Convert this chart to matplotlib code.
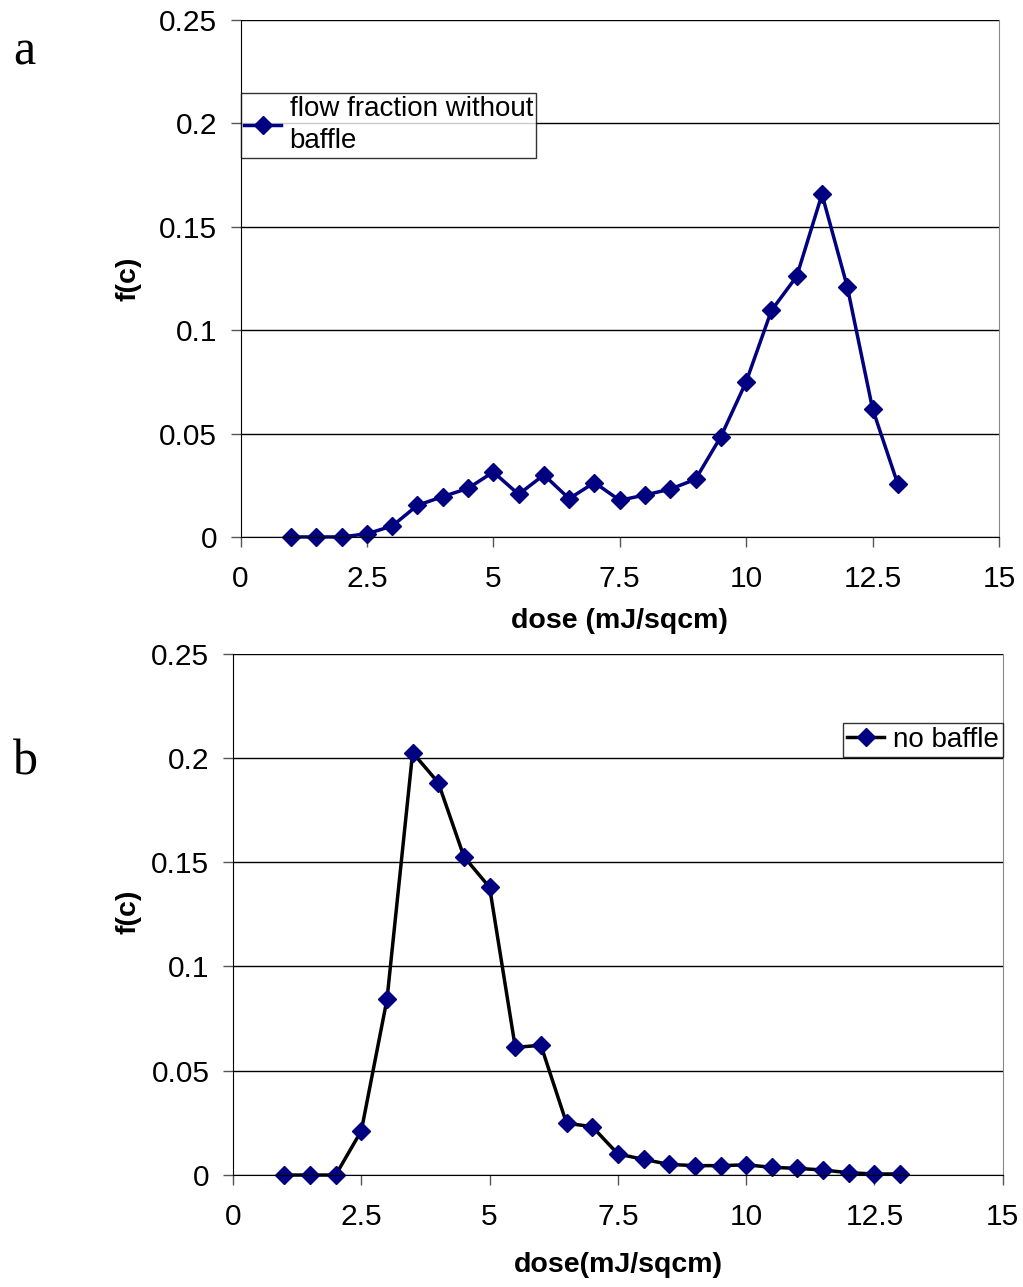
import matplotlib
matplotlib.use("agg")
import matplotlib.pyplot as plt

# dose values (mJ/sqcm)
dose = [1, 1.5, 2, 2.5, 3, 3.5, 4, 4.5, 5, 5.5, 6, 6.5, 7, 7.5, 8, 8.5, 9,
        9.5, 10, 10.5, 11, 11.5, 12, 12.5, 13]

# panel a: flow fraction without baffle
fc_a = [0.0, 0.0, 0.0, 0.0015, 0.0053, 0.0153, 0.0195, 0.0235, 0.0314,
        0.0206, 0.0300, 0.0185, 0.0263, 0.0177, 0.0203, 0.0231, 0.0279,
        0.0485, 0.0750, 0.1095, 0.1260, 0.1657, 0.1210, 0.0620, 0.0255]

# panel b: no baffle
fc_b = [0.0, 0.0, 0.0, 0.0212, 0.0842, 0.2025, 0.1881, 0.1526, 0.1379,
        0.0612, 0.0622, 0.0248, 0.0232, 0.0101, 0.0075, 0.0051, 0.0045,
        0.0045, 0.0049, 0.0037, 0.0032, 0.0024, 0.0011, 0.0005, 0.0005]

xticks = [0, 2.5, 5, 7.5, 10, 12.5, 15]
xtick_labels = ["0", "2.5", "5", "7.5", "10", "12.5", "15"]
yticks = [0, 0.05, 0.1, 0.15, 0.2, 0.25]
ytick_labels = ["0", "0.05", "0.1", "0.15", "0.2", "0.25"]

plt.rcParams['font.family'] = ['Liberation Sans', 'DejaVu Sans']
NAVY = '#000080'


def style_axes(ax, xlabel, ylab_pos, xlab_pos):
    ax.set_xlim(0, 15)
    ax.set_ylim(0, 0.25)
    ax.set_xticks(xticks)
    ax.set_xticklabels(xtick_labels)
    ax.set_yticks(yticks)
    ax.set_yticklabels(ytick_labels)
    ax.tick_params(direction='out', length=7, width=1, labelsize=21.5,
                   color='#555555')
    ax.tick_params(axis='y', pad=10)
    ax.tick_params(axis='x', pad=13)
    ax.yaxis.grid(True, color='black', lw=1)
    ax.set_axisbelow(True)
    ax.spines['top'].set_visible(False)
    ax.spines['right'].set_color('#888888')
    ax.spines['bottom'].set_color('black')
    ax.spines['left'].set_color('black')
    ax.set_ylabel("f(c)", fontsize=20.5, fontweight='bold')
    ax.set_xlabel(xlabel, fontsize=20.5, fontweight='bold')
    ax.yaxis.set_label_coords(*ylab_pos)
    ax.xaxis.set_label_coords(*xlab_pos)


fig = plt.figure(figsize=(10.23, 12.87), dpi=100)
ax1 = fig.add_axes([0.2351, 0.5828, 0.7414, 0.4017])
ax2 = fig.add_axes([0.2278, 0.0870, 0.7524, 0.4052])

ax1.plot(dose, fc_a, color=NAVY, lw=2.5, marker='D', ms=9, mfc=NAVY,
         mec=NAVY, label='flow fraction without\nbaffle', clip_on=False)
style_axes(ax1, "dose (mJ/sqcm)", (-0.131, 0.5), (0.5, -0.138))
leg1 = ax1.legend(loc='upper left', bbox_to_anchor=(0.0, 0.859), fontsize=20,
                  frameon=True, fancybox=False, edgecolor='black',
                  handlelength=1.35, handletextpad=0.3, borderpad=0.12,
                  borderaxespad=0.0)
leg1.get_frame().set_linewidth(1)
leg1.get_texts()[0].set_linespacing(1.3)

ax2.plot(dose, fc_b, color='black', lw=2.5, marker='D', ms=9, mfc=NAVY,
         mec=NAVY, label='no baffle', clip_on=False)
style_axes(ax2, "dose(mJ/sqcm)", (-0.119, 0.504), (0.5, -0.148))
leg2 = ax2.legend(loc='upper right', bbox_to_anchor=(1.0, 0.867), fontsize=20,
                  frameon=True, fancybox=False, edgecolor='black',
                  handlelength=1.35, handletextpad=0.3, borderpad=0.15,
                  borderaxespad=0.0)
leg2.get_frame().set_linewidth(1)

fig.text(0.013, 0.950, "a", fontsize=36, family='Liberation Serif')
fig.text(0.013, 0.398, "b", fontsize=36, family='Liberation Serif')

fig.savefig("out.png", dpi=100)
